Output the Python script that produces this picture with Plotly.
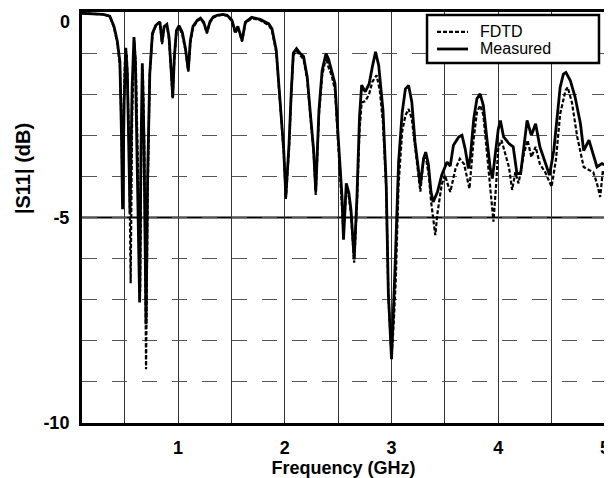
import plotly.graph_objects as go

# ---- data ----
freq_measured = [0.10, 0.20, 0.30, 0.36, 0.40, 0.43, 0.455, 0.47, 0.48, 0.495, 0.51, 0.525, 0.55, 0.57,
                 0.587, 0.60, 0.625, 0.64, 0.652, 0.665, 0.68, 0.70, 0.715, 0.735, 0.76, 0.79, 0.81, 0.83,
                 0.85, 0.87, 0.895, 0.915, 0.935, 0.95, 0.965, 0.985, 1.009, 1.04, 1.07, 1.096, 1.115, 1.14,
                 1.18, 1.21, 1.24, 1.27, 1.30, 1.33, 1.365, 1.42, 1.46, 1.505, 1.536, 1.56, 1.60, 1.63,
                 1.69, 1.77, 1.85, 1.88, 1.92, 1.95, 1.99, 2.01, 2.04, 2.06, 2.08, 2.11, 2.145, 2.176,
                 2.21, 2.245, 2.27, 2.29, 2.32, 2.35, 2.386, 2.41, 2.44, 2.47, 2.50, 2.536, 2.55, 2.576,
                 2.60, 2.62, 2.65, 2.676, 2.70, 2.72, 2.754, 2.79, 2.82, 2.85, 2.88, 2.92, 2.95, 2.97,
                 3.00, 3.02, 3.035, 3.066, 3.10, 3.13, 3.16, 3.19, 3.22, 3.27, 3.30, 3.32, 3.345, 3.37,
                 3.39, 3.43, 3.47, 3.52, 3.55, 3.58, 3.63, 3.66, 3.69, 3.72, 3.74, 3.77, 3.80, 3.83,
                 3.86, 3.89, 3.925, 3.945, 3.97, 4.00, 4.02, 4.05, 4.10, 4.14, 4.175, 4.21, 4.24, 4.27,
                 4.31, 4.35, 4.39, 4.44, 4.48, 4.52, 4.55, 4.58, 4.61, 4.634, 4.675, 4.72, 4.77, 4.80,
                 4.85, 4.88, 4.925, 4.97, 5.00]
s11_measured = [-0.03, -0.04, -0.06, -0.10, -0.35, -0.70, -1.2, -3.0, -4.8, -2.2, -0.87, -1.5, -4.9, -1.8,
                -0.61, -1.2, -4.5, -7.07, -3.5, -1.25, -3.0, -7.6, -4.0, -1.5, -0.52, -0.33, -0.28, -0.24,
                -0.73, -0.35, -0.30, -0.6, -1.4, -2.07, -1.1, -0.45, -0.33, -0.5, -0.9, -1.42, -0.7, -0.35,
                -0.2, -0.15, -0.25, -0.49, -0.23, -0.12, -0.08, -0.06, -0.08, -0.2, -0.49, -0.35, -0.69, -0.25,
                -0.13, -0.18, -0.29, -0.41, -0.93, -1.98, -3.36, -4.49, -3.2, -1.98, -1.0, -0.89, -1.01, -1.08,
                -1.58, -2.63, -3.36, -4.37, -2.39, -1.42, -1.01, -1.15, -1.42, -1.74, -3.03, -4.49, -5.54, -4.17,
                -4.4, -4.81, -6.02, -4.49, -2.55, -1.78, -1.94, -1.75, -1.34, -0.97, -1.3, -2.39, -4.17, -6.83,
                -8.45, -7.2, -6.07, -3.65, -2.44, -1.87, -1.79, -2.19, -3.16, -4.21, -3.57, -3.41, -3.7, -4.38,
                -4.62, -4.38, -3.97, -3.65, -3.75, -3.24, -3.04, -3.0, -3.33, -3.81, -3.49, -2.60, -2.11, -1.99,
                -2.27, -3.0, -3.81, -4.05, -3.5, -2.85, -2.64, -3.04, -3.2, -3.28, -3.93, -3.93, -3.28, -2.64,
                -3.0, -2.72, -3.28, -3.69, -3.97, -3.37, -2.56, -1.83, -1.51, -1.47, -1.67, -2.07, -2.72, -3.37,
                -3.12, -3.4, -3.77, -3.69, -3.72]

freq_fdtd = [0.10, 0.20, 0.30, 0.36, 0.40, 0.43, 0.455, 0.47, 0.48, 0.49, 0.505, 0.52, 0.54, 0.556, 0.57,
             0.59, 0.605, 0.63, 0.645, 0.655, 0.67, 0.685, 0.70, 0.715, 0.735, 0.76, 0.79, 0.81, 0.83,
             0.85, 0.87, 0.895, 0.915, 0.935, 0.95, 0.965, 0.985, 1.009, 1.04, 1.07, 1.096, 1.115, 1.14,
             1.18, 1.21, 1.24, 1.27, 1.30, 1.33, 1.365, 1.42, 1.46, 1.505, 1.536, 1.56, 1.60, 1.63,
             1.69, 1.77, 1.85, 1.88, 1.92, 1.95, 1.99, 2.01, 2.04, 2.06, 2.08, 2.11, 2.145, 2.176,
             2.21, 2.245, 2.27, 2.29, 2.32, 2.35, 2.386, 2.41, 2.44, 2.47, 2.50, 2.536, 2.55, 2.576,
             2.60, 2.62, 2.65, 2.676, 2.70, 2.72, 2.754, 2.79, 2.82, 2.86, 2.89, 2.92, 2.95, 2.97,
             3.00, 3.02, 3.04, 3.066, 3.10, 3.13, 3.16, 3.19, 3.22, 3.27, 3.30, 3.32, 3.35, 3.37,
             3.41, 3.43, 3.47, 3.50, 3.55, 3.60, 3.64, 3.68, 3.73, 3.77, 3.80, 3.83, 3.86, 3.89,
             3.925, 3.955, 3.98, 4.00, 4.03, 4.06, 4.10, 4.13, 4.16, 4.19, 4.24, 4.275, 4.31, 4.35,
             4.39, 4.44, 4.50, 4.54, 4.58, 4.63, 4.65, 4.69, 4.74, 4.80, 4.85, 4.89, 4.925, 4.955,
             4.98, 5.00]
s11_fdtd = [-0.03, -0.04, -0.06, -0.10, -0.38, -0.75, -1.3, -2.8, -4.5, -2.4, -0.95, -1.0, -3.0, -6.6, -2.5,
            -0.7, -1.3, -4.5, -6.8, -3.5, -1.4, -3.5, -8.69, -4.5, -1.5, -0.55, -0.35, -0.30, -0.26,
            -0.78, -0.38, -0.33, -0.65, -1.45, -2.1, -1.15, -0.5, -0.36, -0.55, -0.95, -1.45, -0.75, -0.38,
            -0.22, -0.17, -0.27, -0.52, -0.25, -0.14, -0.09, -0.07, -0.09, -0.22, -0.52, -0.38, -0.72, -0.27,
            -0.15, -0.2, -0.32, -0.45, -0.98, -2.05, -3.4, -4.55, -3.3, -2.05, -1.05, -0.95, -1.05, -1.15,
            -1.65, -2.7, -3.4, -4.45, -2.5, -1.55, -1.1, -1.35, -1.55, -1.9, -3.2, -4.6, -5.4, -4.3,
            -4.5, -4.9, -6.1, -4.7, -2.9, -2.2, -2.17, -2.0, -1.7, -1.54, -1.9, -2.7, -4.3, -6.9,
            -8.4, -7.6, -6.5, -4.2, -2.9, -2.52, -2.36, -2.6, -3.3, -4.37, -3.57, -3.5, -4.0, -4.6,
            -5.43, -4.9, -4.2, -3.97, -4.38, -3.81, -3.57, -3.7, -4.30, -3.08, -2.44, -2.27, -2.5, -3.3,
            -4.4, -5.10, -4.2, -3.3, -3.12, -3.4, -3.77, -4.33, -3.9, -4.17, -3.45, -3.12, -3.53, -3.28,
            -3.7, -3.9, -4.25, -3.6, -2.48, -1.91, -1.83, -2.2, -3.04, -3.77, -3.85, -3.9, -4.17, -4.5,
            -3.85, -3.95]

series_names = ["FDTD", "Measured"]
x_tick_vals = [0.5, 1, 1.5, 2, 2.5, 3, 3.5, 4, 4.5, 5]
x_tick_text = ["", "1", "", "2", "", "3", "", "4", "", "5"]
y_tick_vals = [-10, -9, -8, -7, -6, -5, -4, -3, -2, -1, 0]
y_tick_text = ["-10", "", "", "", "", "-5", "", "", "", "", "0"]

FONT = "Liberation Sans, Arial, sans-serif"
DASH_STYLE = dict(color="black", width=2.2, dash="4px,2px")
SOLID_STYLE = dict(color="black", width=2.8)
TICK_FONT = dict(family=FONT, size=18, color="black", weight="bold")

fig = go.Figure()
fig.add_trace(go.Scatter(x=freq_fdtd, y=s11_fdtd, mode="lines", name=series_names[0],
                         line=DASH_STYLE, showlegend=False))
fig.add_trace(go.Scatter(x=freq_measured, y=s11_measured, mode="lines", name=series_names[1],
                         line=SOLID_STYLE, showlegend=False))

# -5 dB reference line
fig.add_shape(type="line", xref="paper", x0=0, x1=1, yref="y", y0=-5, y1=-5,
              line=dict(color="black", width=2), layer="below")

# legend box (drawn as shapes + text annotations)
fig.add_shape(type="rect", xref="paper", yref="paper", x0=0.6597, x1=0.9885, y0=0.8759, y1=0.9927,
              line=dict(color="black", width=2.5), fillcolor="white", layer="above")
for row_y, style, name in [(0.9514, DASH_STYLE, series_names[0]), (0.9100, SOLID_STYLE, series_names[1])]:
    fig.add_shape(type="line", xref="paper", yref="paper", x0=0.6788, x1=0.7380, y0=row_y, y1=row_y,
                  line=dict(color="black", width=style["width"], dash=style.get("dash", "solid")),
                  layer="above")
    fig.add_annotation(text=name, xref="paper", yref="paper", x=0.7572, y=row_y,
                       xanchor="left", yanchor="middle", showarrow=False,
                       font=dict(family=FONT, size=16, color="black"))

# the top y tick label sits just below the frame in the reference; placed as text so it is not clipped
y_axis_labels = [t if v != 0 else "" for v, t in zip(y_tick_vals, y_tick_text)]
top_label = y_tick_text[y_tick_vals.index(0)]
fig.add_annotation(text=top_label, xref="paper", yref="paper", x=-0.019, y=0.976,
                   xanchor="right", yanchor="middle", showarrow=False, font=TICK_FONT)

fig.update_xaxes(range=[0.1, 5], tickvals=x_tick_vals, ticktext=x_tick_text,
                 showgrid=True, gridcolor="#333333", gridwidth=1, griddash="solid",
                 showline=True, linecolor="black", linewidth=3, mirror=True,
                 ticks="", zeroline=False, layer="below traces", automargin=False,
                 ticklabeloverflow="allow", ticklabelstandoff=6,
                 tickfont=TICK_FONT,
                 title=dict(text="Frequency (GHz)", standoff=0,
                            font=dict(family=FONT, size=18, color="black", weight="bold")))
fig.update_yaxes(range=[-10, 0], tickvals=y_tick_vals, ticktext=y_axis_labels,
                 showgrid=True, gridcolor="#555555", gridwidth=1, griddash="longdash",
                 showline=True, linecolor="black", linewidth=3, mirror=True,
                 ticks="", zeroline=False, automargin=False,
                 ticklabeloverflow="allow", ticklabelstandoff=6,
                 tickfont=TICK_FONT)

fig.add_annotation(text="|S11| (dB)", xref="paper", yref="paper", x=-0.113, y=0.62,
                   textangle=-90, showarrow=False, xanchor="center", yanchor="middle",
                   font=dict(family=FONT, size=20, color="black", weight="bold"))

# the page body has an 8px default margin, so the figure is sized to fill the 612x478 window
fig.update_layout(
    width=604, height=470,
    margin=dict(l=74, r=7, t=4, b=55),
    paper_bgcolor="white", plot_bgcolor="white",
    showlegend=False,
)

fig.write_html("out.html")
